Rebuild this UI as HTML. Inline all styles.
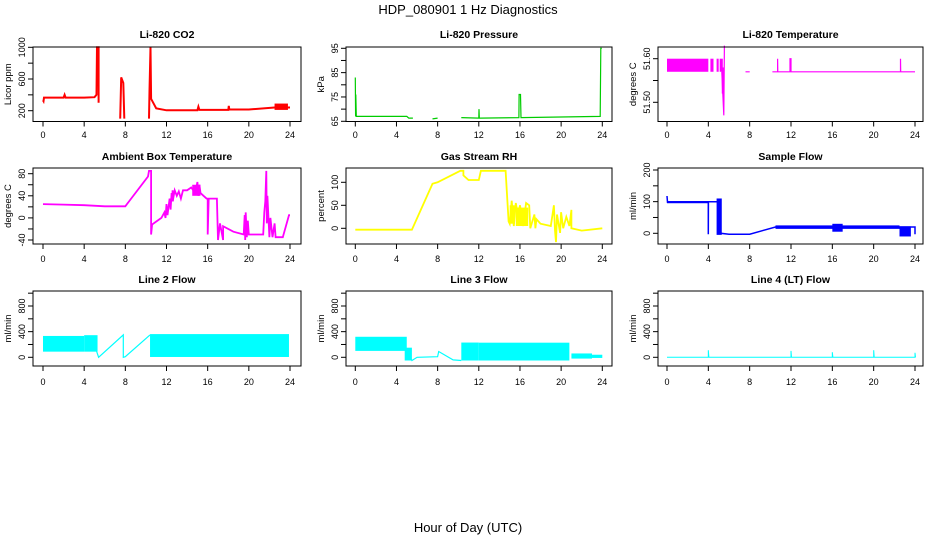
<!DOCTYPE html>
<html><head><meta charset="utf-8"><style>
html,body{margin:0;padding:0;background:#fff;}
svg{display:block;font-family:"Liberation Sans",sans-serif;}
</style></head><body>
<svg id="chart" width="936" height="540" viewBox="0 0 936 540" xmlns="http://www.w3.org/2000/svg">
<text x="468" y="14" text-anchor="middle" font-size="13">HDP_080901  1 Hz Diagnostics</text>
<text x="468" y="532" text-anchor="middle" font-size="13">Hour of Day (UTC)</text>
</svg>
<script>
// x ticks
const xTicks = [0,4,8,12,16,20,24];

// CO2
const co2Hours = [0,0.05,0.1,2,2.1,2.2,4,5,5.2,5.25,5.4,5.4,null,7.5,7.6,7.8,7.9,null,10.3,10.35,10.45,10.5,11,12,15,15.1,15.2,16,18,18.05,18.1,20,22.5,24];
const co2Values = [330,320,365,365,400,365,365,370,400,1000,1000,300,null,100,620,550,100,null,100,450,1000,350,230,205,205,250,210,210,210,260,215,215,240,240];
const co2BandStart=[22.5], co2BandEnd=[23.8], co2BandLo=[210], co2BandHi=[290];
// Pressure
const presHours = [0,0.03,0.05,0.1,5,5.2,5.6,null,7.5,8,null,10.3,12,12.02,12.05,12.1,15.9,15.92,16.05,16.1,23.8,23.85,23.95];
const presValues = [83,67,76,67,67,66.3,66.3,null,66,66.3,null,66.5,66.3,70,66.3,66.3,66.5,76,76,66.5,67,95,95];
// Li-820 temperature
const ltHours = [5.3,5.4,5.5,5.55,null,7.6,8,null,10.2,10.7,10.7,10.72,11.9,11.9,12,12,22.6,22.6,22.62,24];
const ltValues = [51.57,51.52,51.47,51.63,null,51.57,51.57,null,51.57,51.57,51.60,51.57,51.57,51.60,51.60,51.57,51.57,51.60,51.57,51.57];
const ltBandStart=[0,4.2,4.8,5.1,5.3], ltBandEnd=[4,4.5,5,5.4,5.5], ltBandLo=[51.57,51.57,51.57,51.57,51.52], ltBandHi=[51.60,51.60,51.60,51.60,51.58];
// Ambient box temperature
const ambHours = [0,2,4,6,8,10.2,10.3,10.5,10.5,10.6,11.5,11.8,11.9,12,12.1,12.3,12.4,12.5,12.6,12.8,13,13.2,13.4,13.6,14,14.4,14.8,15,15.1,15.2,15.3,15.6,15.9,16,16,16.1,16.5,16.9,17,17.2,17.5,17.5,18.5,19.5,19.6,19.65,19.7,19.8,19.9,20,21.4,21.5,21.6,21.7,21.75,21.8,22,22.1,22.3,22.5,22.6,23.3,23.9,24];
const ambValues = [25,24,23,21,21,75,85,85,-30,-12,0,10,0,25,5,35,15,45,30,50,40,48,35,50,50,55,45,65,40,60,45,40,35,35,-30,35,35,35,-40,-10,-40,-15,-25,-30,5,-40,10,-35,-5,-30,-30,10,30,85,-10,40,-35,0,-35,-10,-35,-35,5,5];
const ambBandStart=[12.5,14.5], ambBandEnd=[12.7,15.3], ambBandLo=[30,40], ambBandHi=[50,60];
// Gas stream RH
const rhHours = [0,5.5,7.5,8,10.2,10.5,10.5,11,12,12.2,14.6,14.9,15,15.2,15.4,15.6,15.8,16,16.3,16.6,16.9,17,17.4,17.5,17.6,18,19,19.3,19.4,19.5,19.6,19.9,20,20.2,20.5,20.8,21,21,22,24];
const rhValues = [-3,-3,97,100,125,125,115,105,105,125,125,15,10,60,5,55,30,50,5,55,50,0,30,0,20,10,5,50,-5,-30,30,-10,35,0,25,5,40,0,-5,0];
const rhBandStart=[15,15.6], rhBandEnd=[15.5,16.8], rhBandLo=[10,5], rhBandHi=[50,45];
// Sample flow
const sfHours = [0,0.05,0.1,4,4,4.01,5,5.2,6,8,10.5,24,24];
const sfValues = [118,98,98,100,-3,100,100,0,-3,-3,20,20,-3];
const sfBandStart=[0,4.8,10.5,16,22.5], sfBandEnd=[4,5.3,22.5,17,23.6], sfBandLo=[95,-5,14,5,-10], sfBandHi=[102,110,25,30,22];
// Line 2 flow
const l2Hours = [5.2,5.4,7.8,7.8,8,10.4];
const l2Values = [100,0,350,0,10,350];
const l2BandStart=[0,4,10.4], l2BandEnd=[4,5.3,23.9], l2BandLo=[88,88,5], l2BandHi=[333,345,362];
// Line 3 flow
const l3Hours = [5,5.5,6,8,8.1,9.5,10.3];
const l3Values = [100,-50,0,10,90,-40,-50];
const l3BandStart=[0,4.8,10.3,12,21,23], l3BandEnd=[5,5.5,12,20.8,23,24], l3BandLo=[100,-50,-50,-50,-20,-10], l3BandHi=[320,150,230,228,60,40];
// Line 4 flow
const l4Hours = [0,4,4,4.05,12,12,12.05,16,16,16.05,20,20,20.05,24,24,24.05];
const l4Values = [0,0,110,0,0,100,0,0,80,0,0,110,0,0,70,0];

const NS='http://www.w3.org/2000/svg';
const svg=document.getElementById('chart');
function mk(tag,attrs,parent){const e=document.createElementNS(NS,tag);for(const k in attrs)e.setAttribute(k,attrs[k]);(parent||svg).appendChild(e);return e;}

const cols=[{bx0:33,bx1:301,x0:43,x24:290},{bx0:346,bx1:612,x0:355.3,x24:602.3},{bx0:658,bx1:923,x0:667,x24:915}];
const rows=[{by0:47,by1:121.5,lab:138,title:38},{by0:168,by1:244,lab:262,title:160},{by0:291,by1:366,lab:385,title:283}];

function panel(o){
  const c=cols[o.col], r=rows[o.row];
  const g=mk('g',{});
  
  
  const xs=h=>c.x0+(c.x24-c.x0)*h/24;
  const ys=v=>o.p1+(o.p2-o.p1)*(v-o.v1)/(o.v2-o.v1);
  const t=mk('text',{x:(c.bx0+c.bx1)/2,y:r.title,'text-anchor':'middle','font-size':'10.5','font-weight':'bold'},g);
  t.textContent=o.title;
  
  
  if(o.bs){for(let i=0;i<o.bs.length;i++){
    const y1=ys(o.bh[i]),y2=ys(o.bl[i]);
    const rc=mk('rect',{x:xs(o.bs[i]),y:Math.min(y1,y2),width:xs(o.be[i])-xs(o.bs[i]),height:Math.abs(y2-y1),fill:o.color},g);
    
    
  }}
  let d='',pen=false;
  for(let i=0;i<o.hx.length;i++){
    if(o.hx[i]===null){pen=false;continue;}
    d+=(pen?'L':'M')+xs(o.hx[i]).toFixed(1)+' '+ys(o.vy[i]).toFixed(1);pen=true;
  }
  const p=mk('path',{d:d,fill:'none',stroke:o.color,'stroke-width':o.sw||1.5},g);
  
  
  const b=mk('rect',{x:c.bx0,y:r.by0,width:c.bx1-c.bx0,height:r.by1-r.by0,fill:'none',stroke:'#000','stroke-width':1},g);
  
  
  xTicks.forEach(h=>{
    mk('line',{x1:xs(h),x2:xs(h),y1:r.by1,y2:r.by1+5,stroke:'#000'},g);
    const tl=mk('text',{x:xs(h),y:r.lab,'text-anchor':'middle','font-size':'9'},g);
    tl.textContent=h;
    
    
  });
  o.yt.forEach(v=>{
    const y=ys(v);
    mk('line',{x1:c.bx0-5,x2:c.bx0,y1:y,y2:y,stroke:'#000'},g);
  });
  o.yl.forEach(v=>{
    const y=ys(v);
    const tl=mk('text',{x:c.bx0-8,y:y,'text-anchor':'middle','font-size':'9',transform:'rotate(-90 '+(c.bx0-8)+' '+y+')'},g);
    tl.textContent=o.fmt?o.fmt(v):v;
    
    
  });
  const my=(r.by0+r.by1)/2, mx=c.bx0-22;
  const yt=mk('text',{x:mx,y:my,'text-anchor':'middle','font-size':'9.5',transform:'rotate(-90 '+mx+' '+my+')'},g);
  yt.textContent=o.ylab;
  
  
}

panel({name:'co2-panel',col:0,row:0,title:'Li-820 CO2',ylab:'Licor ppm',color:'#ff0000',v1:1000,p1:47.3,v2:200,p2:110.7,yt:[200,400,600,800,1000],yl:[200,600,1000],hx:co2Hours,vy:co2Values,bs:co2BandStart,be:co2BandEnd,bl:co2BandLo,bh:co2BandHi,sw:2});
panel({name:'pressure-panel',col:1,row:0,title:'Li-820 Pressure',ylab:'kPa',color:'#00cc00',v1:95,p1:48.3,v2:65,p2:121.3,yt:[65,70,75,80,85,90,95],yl:[65,75,85,95],hx:presHours,vy:presValues,sw:1.2});
panel({name:'li820-temperature-panel',col:2,row:0,title:'Li-820 Temperature',ylab:'degrees C',color:'#ff00ff',v1:51.60,p1:58.7,v2:51.50,p2:102.3,yt:[51.50,51.55,51.60],yl:[51.50,51.60],fmt:v=>v.toFixed(2),hx:ltHours,vy:ltValues,bs:ltBandStart,be:ltBandEnd,bl:ltBandLo,bh:ltBandHi,sw:1.2});
panel({name:'ambient-temperature-panel',col:0,row:1,title:'Ambient Box Temperature',ylab:'degrees C',color:'#ff00ff',v1:80,p1:173.7,v2:-40,p2:240,yt:[-40,-20,0,20,40,60,80],yl:[-40,0,40,80],hx:ambHours,vy:ambValues,bs:ambBandStart,be:ambBandEnd,bl:ambBandLo,bh:ambBandHi,sw:1.8});
panel({name:'rh-panel',col:1,row:1,title:'Gas Stream RH',ylab:'percent',color:'#ffff00',v1:100,p1:182.3,v2:0,p2:228.3,yt:[0,50,100],yl:[0,50,100],hx:rhHours,vy:rhValues,bs:rhBandStart,be:rhBandEnd,bl:rhBandLo,bh:rhBandHi,sw:1.8});
panel({name:'sample-flow-panel',col:2,row:1,title:'Sample Flow',ylab:'ml/min',color:'#0000ff',v1:200,p1:170,v2:0,p2:233.3,yt:[0,50,100,150,200],yl:[0,100,200],hx:sfHours,vy:sfValues,bs:sfBandStart,be:sfBandEnd,bl:sfBandLo,bh:sfBandHi,sw:1.5});
panel({name:'line2-flow-panel',col:0,row:2,title:'Line 2 Flow',ylab:'ml/min',color:'#00ffff',v1:800,p1:306,v2:0,p2:357.3,yt:[0,200,400,600,800,1000],yl:[0,400,800],hx:l2Hours,vy:l2Values,bs:l2BandStart,be:l2BandEnd,bl:l2BandLo,bh:l2BandHi,sw:1.2});
panel({name:'line3-flow-panel',col:1,row:2,title:'Line 3 Flow',ylab:'ml/min',color:'#00ffff',v1:800,p1:306,v2:0,p2:357.3,yt:[0,200,400,600,800,1000],yl:[0,400,800],hx:l3Hours,vy:l3Values,bs:l3BandStart,be:l3BandEnd,bl:l3BandLo,bh:l3BandHi,sw:1.2});
panel({name:'line4-flow-panel',col:2,row:2,title:'Line 4 (LT) Flow',ylab:'ml/min',color:'#00ffff',v1:800,p1:306,v2:0,p2:357.3,yt:[0,200,400,600,800,1000],yl:[0,400,800],hx:l4Hours,vy:l4Values,sw:1});
</script>
</body></html>
